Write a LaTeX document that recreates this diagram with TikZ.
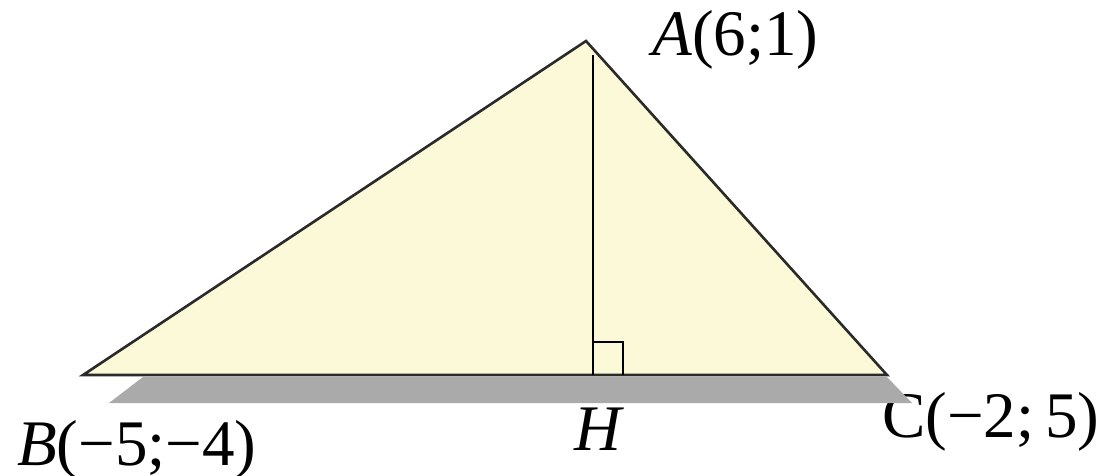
\documentclass[tikz,border=0pt]{standalone}
\usepackage{fontspec}
\setmainfont{Liberation Serif}
\definecolor{triFill}{HTML}{FBF9D8}
\definecolor{triLine}{HTML}{2A2A2A}
\definecolor{shadowGray}{HTML}{AAAAAA}
\tikzset{
  lbl/.style={anchor=base west, inner sep=0pt, font=\fontsize{65}{72}\selectfont, text=black},
  edge/.style={draw=triLine, line width=2.6pt, line join=miter},
  thin/.style={draw=black, line width=2.2pt}
}
\begin{document}
\begin{tikzpicture}[x=1pt,y=-1pt]
\useasboundingbox (0,0) rectangle (1106,475);
\fill[white] (0,0) rectangle (1106,475);
% labels
\node[lbl] (labA) at (652,55) {\textit{A}(6;1)};
\node[lbl] (labB) at (17,465) {\textit{B}(−5;−4)};
\node[lbl] (labH) at (574,450) {\textit{H}};
\node[lbl] (labC) at (882,437) {C(−2;\,5)};
% shadow
\fill[shadowGray] (143,377) -- (887,377) -- (912,403) -- (109,403) -- cycle;
% vertices
\coordinate (A) at (586,41);
\coordinate (B) at (83,375);
\coordinate (C) at (887,375);
\coordinate (Ht) at (593,55);
\coordinate (H) at (593,375);
\coordinate (R1) at (593,342);
\coordinate (R2) at (623,342);
\coordinate (R3) at (623,375);
\filldraw[edge, fill=triFill] (A) -- (B) -- (C) -- cycle;
\draw[thin] (Ht) -- (H);
\draw[thin] (R1) -- (R2) -- (R3);
\end{tikzpicture}
\end{document}
